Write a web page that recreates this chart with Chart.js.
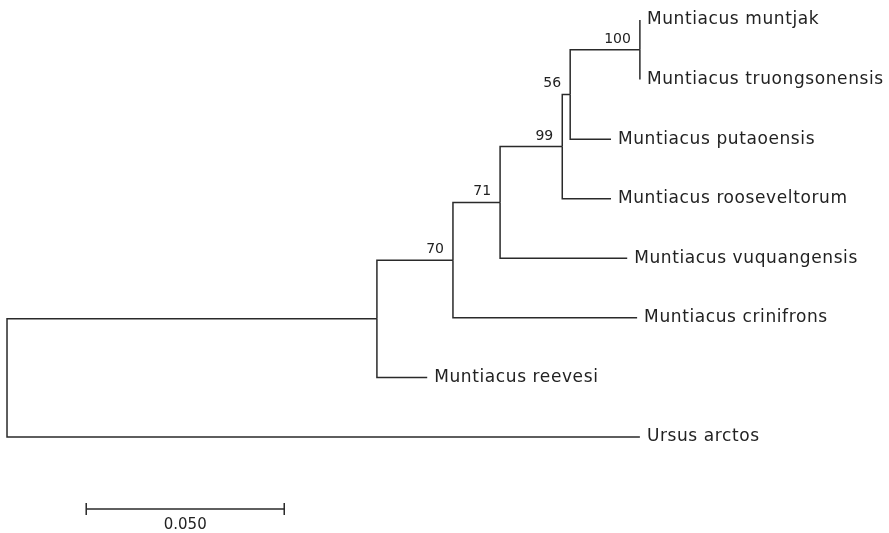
<!DOCTYPE html>
<html>
<head>
<meta charset="utf-8">
<script src="https://cdn.jsdelivr.net/npm/chart.js@4"></script>
<style>
  body { margin: 0; background: #fff; }
  #wrap { width: 889px; height: 533px; }
</style>
</head>
<body>
<div id="wrap"><canvas id="tree" width="889" height="533"></canvas></div>
<script>
// tips, top to bottom
const taxa = ['Muntiacus muntjak', 'Muntiacus truongsonensis', 'Muntiacus putaoensis',
  'Muntiacus rooseveltorum', 'Muntiacus vuquangensis', 'Muntiacus crinifrons',
  'Muntiacus reevesi', 'Ursus arctos'];
const taxonParents = ['n6', 'n6', 'n5', 'n4', 'n3', 'n2', 'n1', 'root'];
const taxonLengths = [0, 0, 0.0103, 0.0123, 0.0321, 0.0465, 0.0127, 0.1598];

// internal nodes
const internalNodes = ['root', 'n1', 'n2', 'n3', 'n4', 'n5', 'n6'];
const internalParents = [null, 'root', 'n1', 'n2', 'n3', 'n4', 'n5'];
const internalLengths = [0, 0.0934, 0.0192, 0.0119, 0.0157, 0.0020, 0.0176];
const bootstrap = [null, null, 70, 71, 99, 56, 100];

// scale bar
const scaleBarStart = 0.02;
const scaleBarLength = 0.05;
const scaleBarLabel = '0.050';

// Build node table
const nodes = {};
internalNodes.forEach((id, i) => {
  nodes[id] = { id, parent: internalParents[i], len: internalLengths[i], boot: bootstrap[i], children: [] };
});
taxa.forEach((name, i) => {
  nodes[name] = { id: name, parent: taxonParents[i], len: taxonLengths[i], tip: true, y: i, children: [] };
});
Object.values(nodes).forEach(n => { if (n.parent) nodes[n.parent].children.push(n); });

// x = distance from root
function setX(n, x) {
  n.x = x;
  n.children.forEach(c => setX(c, x + c.len));
}
setX(nodes.root, 0);

// y = midpoint of first and last child
function setY(n) {
  if (n.tip) return n.y;
  const ys = n.children.map(setY);
  n.y = (Math.min(...ys) + Math.max(...ys)) / 2;
  return n.y;
}
setY(nodes.root);

const lineColor = '#2a2a2a';
const datasets = [];
Object.values(nodes).forEach(n => {
  if (!n.parent) return;
  const p = nodes[n.parent];
  datasets.push({
    data: [{ x: p.x, y: p.y }, { x: p.x, y: n.y }, { x: n.x, y: n.y }],
    showLine: true, borderColor: lineColor, borderWidth: 1.5, pointRadius: 0, fill: false
  });
});
const barY = 8.21;
datasets.push({
  data: [{ x: scaleBarStart, y: barY }, { x: scaleBarStart + scaleBarLength, y: barY }],
  showLine: true, borderColor: lineColor, borderWidth: 1.5, pointRadius: 0
});
[scaleBarStart, scaleBarStart + scaleBarLength].forEach(x => {
  datasets.push({
    data: [{ x, y: barY - 0.1 }, { x, y: barY + 0.1 }],
    showLine: true, borderColor: lineColor, borderWidth: 1.5, pointRadius: 0
  });
});

const labelPlugin = {
  id: 'treeLabels',
  afterDatasetsDraw(chart) {
    const { ctx, scales: { x, y } } = chart;
    ctx.save();
    ctx.fillStyle = '#222';
    ctx.font = '17px "DejaVu Sans"';
    ctx.letterSpacing = '0.6px';
    ctx.textAlign = 'left';
    ctx.textBaseline = 'middle';
    taxa.forEach(name => {
      const n = nodes[name];
      ctx.fillText(name, x.getPixelForValue(n.x) + 7, y.getPixelForValue(n.y));
    });
    ctx.letterSpacing = '0px';
    ctx.font = '14px "DejaVu Sans"';
    ctx.textAlign = 'right';
    ctx.textBaseline = 'alphabetic';
    internalNodes.forEach(id => {
      const n = nodes[id];
      if (n.boot == null) return;
      ctx.fillText(String(n.boot), x.getPixelForValue(n.x) - 9, y.getPixelForValue(n.y) - 7);
    });
    ctx.textAlign = 'center';
    ctx.font = '15px "DejaVu Sans"';
    ctx.fillText(scaleBarLabel, x.getPixelForValue(scaleBarStart + scaleBarLength / 2), y.getPixelForValue(barY) + 20);
    ctx.restore();
  }
};

new Chart(document.getElementById('tree'), {
  type: 'scatter',
  data: { datasets },
  options: {
    responsive: false,
    animation: false,
    layout: { padding: 0 },
    plugins: { legend: { display: false }, tooltip: { enabled: false } },
    scales: {
      x: { display: false, min: -0.00177, max: 0.2227 },
      y: { display: false, reverse: true, min: -0.336, max: 8.612 }
    }
  },
  plugins: [labelPlugin]
});
</script>
</body>
</html>
